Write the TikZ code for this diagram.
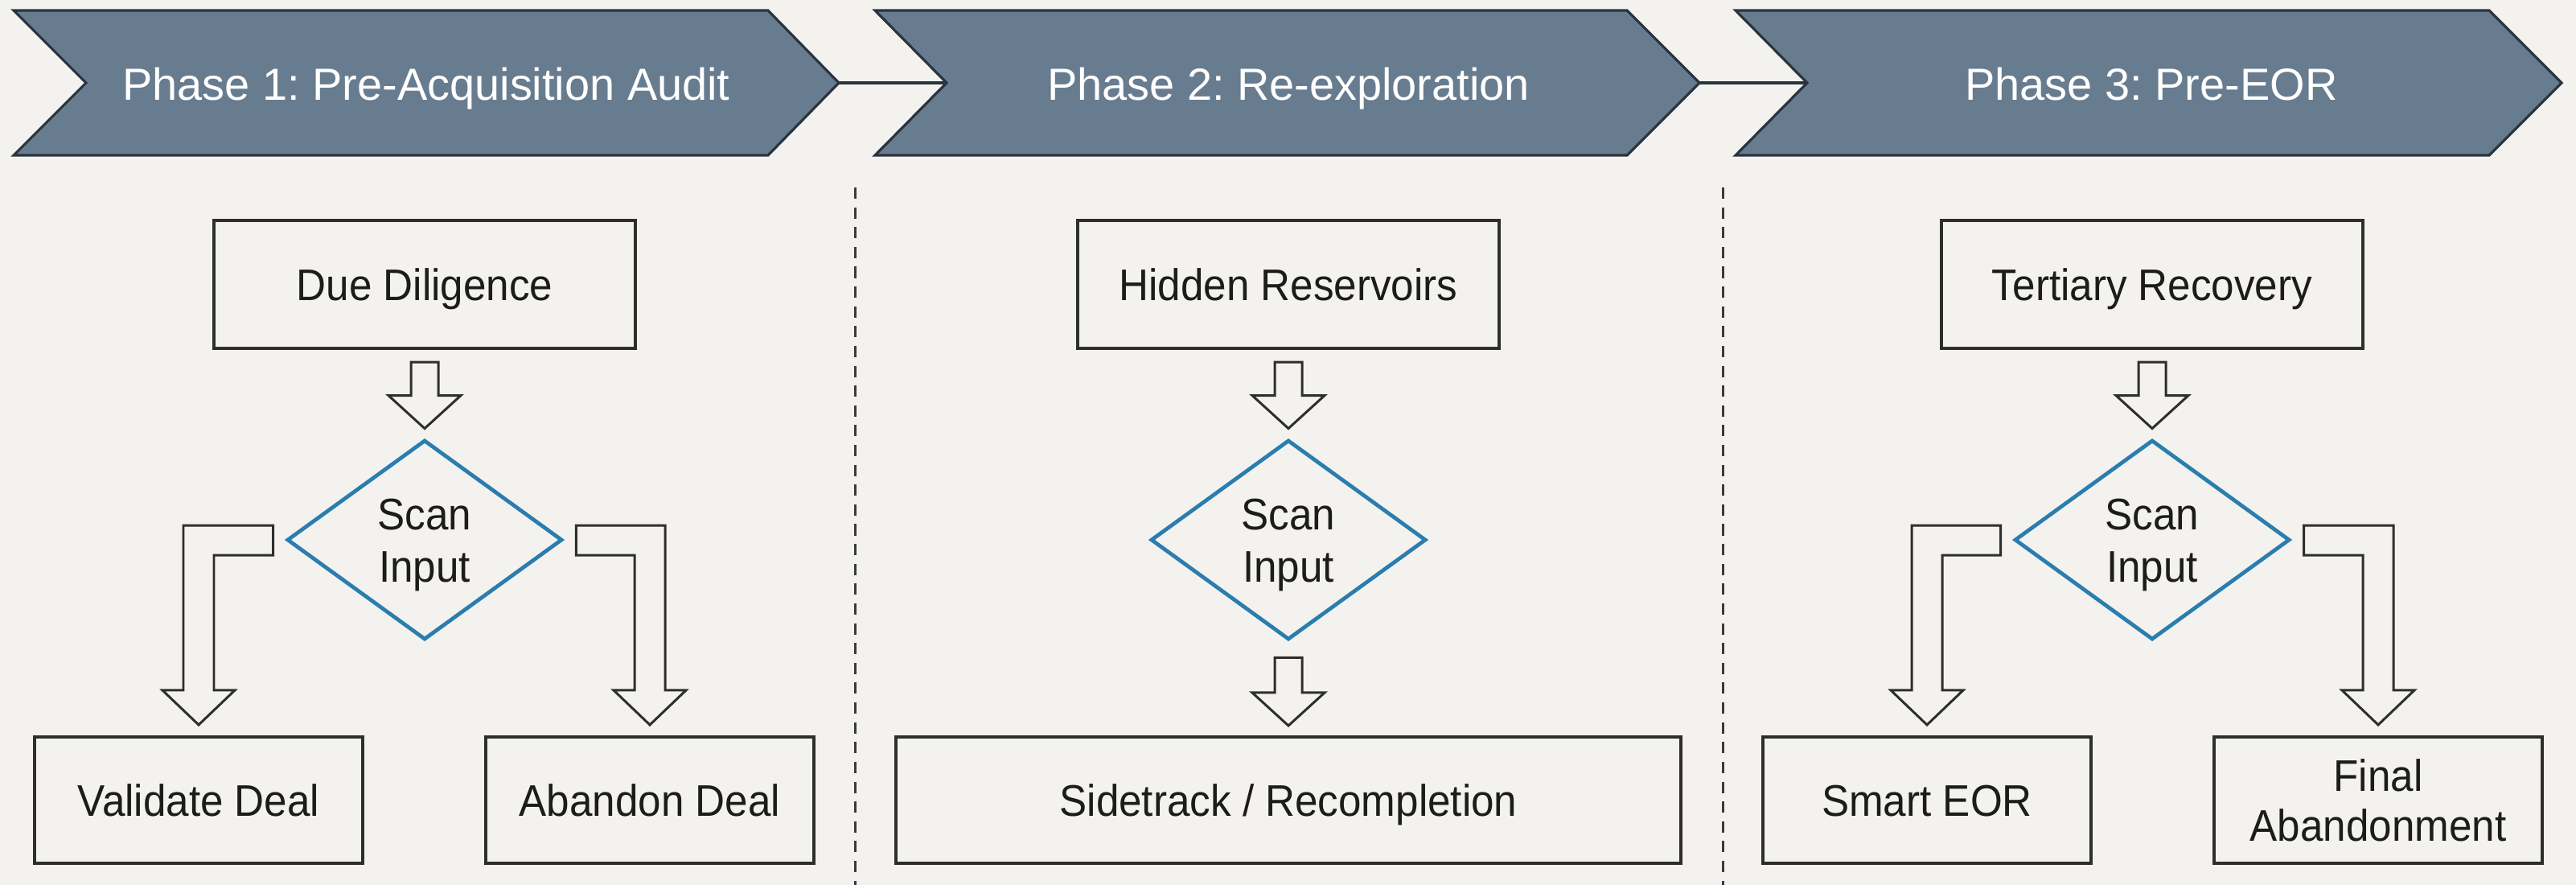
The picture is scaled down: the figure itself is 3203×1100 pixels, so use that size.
\documentclass[tikz,border=0pt]{standalone}
\usepackage{fontspec}
\setmainfont{Liberation Sans}
\newfontfamily\chevfont{Liberation Sans}
\newfontfamily\boxfont[FakeStretch=0.93]{Liberation Sans}
\usetikzlibrary{shapes.geometric,calc}
\frenchspacing
\definecolor{bgc}{HTML}{F3F2EE}
\definecolor{chevc}{HTML}{687C90}
\definecolor{chevline}{HTML}{2A3440}
\definecolor{boxline}{HTML}{2E2E2E}
\definecolor{textc}{HTML}{1C1C1C}
\definecolor{diac}{HTML}{2B7DAF}
\definecolor{sepc}{HTML}{3A3A3A}

\newcommand{\blockdown}[3]{%
  \coordinate (bdA) at ($(#1.south)+(0,#3)$);
  \coordinate (bdT) at ($(#2.north)+(0,-12)$);
  \draw[barrow] ($(bdA)+(-17,0)$) -- ($(bdA)+(17,0)$) -- ($(bdT)+(17,-41)$) -- ($(bdT)+(45,-41)$) -- (bdT) -- ($(bdT)+(-45,-41)$) -- ($(bdT)+(-17,-41)$) -- cycle;}

\newcommand{\blockbent}[4]{%
  \coordinate (bbA) at ($(#1)+(#3*15,0)$);
  \coordinate (bbT) at ($(#2.north)+(0,-13)$);
  \draw[barrow] ($(bbA)+(0,-18)$) -- ($(bbT|-bbA)+(#3*19,-18)$) -- ($(bbT)+(#3*19,-43)$) -- ($(bbT)+(#3*45,-43)$) -- (bbT) -- ($(bbT)+(#4*45,-43)$) -- ($(bbT)+(#4*19,-43)$) -- ($(bbT|-bbA)+(#4*19,19)$) -- ($(bbA)+(0,19)$) -- cycle;}

\begin{document}
\begin{tikzpicture}[x=0.01cm,y=-0.01cm,
  chev/.style={fill=chevc, draw=chevline, line width=0.9pt, line join=miter},
  chevtext/.style={text=white, font=\chevfont\fontsize{15.9pt}{19pt}\selectfont, inner sep=0pt},
  box/.style={draw=boxline, line width=1.15pt, fill=bgc, inner sep=0pt, align=center, text=textc,
    font=\boxfont\fontsize{15.65pt}{17.64pt}\selectfont},
  oneline/.style={text height=11.2pt, text depth=0pt},
  topbox/.style={box, oneline, minimum width=5.24cm, minimum height=1.59cm},
  botbox/.style={box, minimum width=4.07cm, minimum height=1.57cm},
  decision/.style={diamond, draw=diac, line width=1.35pt, fill=bgc, minimum width=3.42cm,
    minimum height=2.48cm, inner sep=0pt, align=center, text=textc,
    font=\boxfont\fontsize{15.65pt}{18.5pt}\selectfont},
  barrow/.style={draw=boxline, line width=0.85pt, fill=bgc, line join=miter},
  sepline/.style={draw=sepc, line width=0.85pt, dash pattern=on 4pt off 3pt},
  link/.style={draw=chevline, line width=0.9pt}]

\fill[bgc] (0,0) rectangle (3203,1100);
\useasboundingbox (0,0) rectangle (3203,1100);

% chevrons
\draw[chev] (17,13) -- (955,13) -- (1043,103) -- (955,193) -- (17,193) -- (107,103) -- cycle;
\draw[chev] (1088,13) -- (2023,13) -- (2113,103) -- (2023,193) -- (1088,193) -- (1177,103) -- cycle;
\draw[chev] (2158,13) -- (3095,13) -- (3185,103) -- (3095,193) -- (2158,193) -- (2247,103) -- cycle;
\coordinate (c1tip) at (1043,103);
\coordinate (c2notch) at (1177,103);
\coordinate (c2tip) at (2113,103);
\coordinate (c3notch) at (2247,103);
\draw[link] (c1tip) -- (c2notch);
\draw[link] (c2tip) -- (c3notch);

\node[chevtext, anchor=base] (ph1) at (530,124) {Phase 1: Pre-Acquisition Audit};
\node[chevtext, anchor=base] (ph2) at (1602,124) {Phase 2: Re-exploration};
\node[chevtext, anchor=base] (ph3) at (2675,124) {Phase 3: Pre-EOR};

% separators
\coordinate (sa1) at (1063,233);
\coordinate (sa2) at (1063,1100);
\coordinate (sb1) at (2142,233);
\coordinate (sb2) at (2142,1100);
\draw[sepline] (sa1) -- (sa2);
\draw[sepline] (sb1) -- (sb2);

% phase 1
\node[topbox] (dd) at (528,353.5) {Due Diligence};
\node[decision] (s1) at (528,671) {\rule{0pt}{0.95em}Scan\\Input};
\node[botbox, oneline] (vd) at (247,994.5) {Validate Deal};
\node[botbox, oneline] (ad) at (808,994.5) {Abandon Deal};
\blockdown{dd}{s1}{15}
\blockbent{s1.west}{vd}{-1}{1}
\blockbent{s1.east}{ad}{1}{-1}

% phase 2
\node[topbox] (hr) at (1602,353.5) {Hidden Reservoirs};
\node[decision] (s2) at (1602,671) {\rule{0pt}{0.95em}Scan\\Input};
\node[box, oneline, minimum width=9.76cm, minimum height=1.57cm] (sr) at (1602,994.5) {Sidetrack / Recompletion};
\blockdown{hr}{s2}{15}
\blockdown{s2}{sr}{20}

% phase 3
\node[topbox] (tr) at (2676,353.5) {Tertiary Recovery};
\node[decision] (s3) at (2676,671) {\rule{0pt}{0.95em}Scan\\Input};
\node[botbox, oneline] (se) at (2396,994.5) {Smart EOR};
\node[botbox] (fa) at (2957,994.5) {Final\\Abandonment};
\blockdown{tr}{s3}{15}
\blockbent{s3.west}{se}{-1}{1}
\blockbent{s3.east}{fa}{1}{-1}

\end{tikzpicture}
\end{document}
